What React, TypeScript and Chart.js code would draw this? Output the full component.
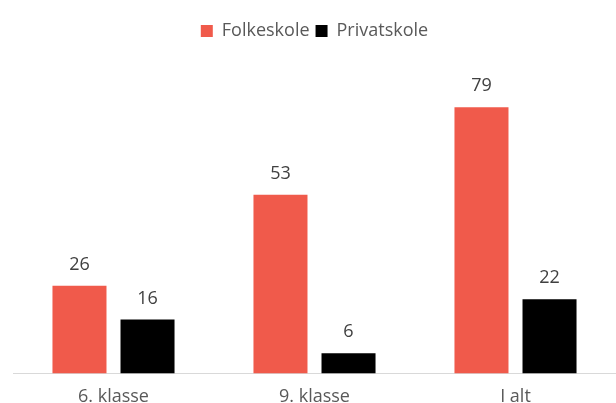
import React, { useEffect, useRef } from "react";
import { Chart, registerables } from "chart.js";

Chart.register(...registerables);

const categories = ["6. klasse", "9. klasse", "I alt"];
const folkeskole = [26, 53, 79];
const privatskole = [16, 6, 22];
const seriesNames = ["Folkeskole", "Privatskole"];

const FONT = "'Open Sans', sans-serif";

const valueLabels = {
  id: "valueLabels",
  afterDatasetsDraw(chart: any) {
    const ctx = chart.ctx;
    ctx.save();
    ctx.font = `18px ${FONT}`;
    ctx.fillStyle = "#404040";
    ctx.textAlign = "center";
    ctx.textBaseline = "bottom";
    chart.data.datasets.forEach((ds: any, i: number) => {
      const meta = chart.getDatasetMeta(i);
      meta.data.forEach((bar: any, j: number) => {
        ctx.fillText(String(ds.data[j]), bar.x, bar.y - 12);
      });
    });
    ctx.restore();
  },
};

export default function App() {
  const ref = useRef<HTMLCanvasElement>(null);
  useEffect(() => {
    if (!ref.current) return;
    const chart = new Chart(ref.current, {
      type: "bar",
      data: {
        labels: categories,
        datasets: [
          { label: seriesNames[0], data: folkeskole, backgroundColor: "#F05A4B" },
          { label: seriesNames[1], data: privatskole, backgroundColor: "#000000" },
        ],
      },
      options: {
        animation: false,
        responsive: false,
        maintainAspectRatio: false,
        layout: { padding: { left: 13, right: 0, top: 16, bottom: -10 } },
        datasets: {
          bar: { categoryPercentage: 0.677, barPercentage: 0.794 },
        },
        plugins: {
          legend: {
            position: "top",
            labels: {
              boxWidth: 12,
              boxHeight: 12,
              padding: 6,
              color: "#595959",
              font: { family: FONT, size: 18 },
            },
          },
          tooltip: { enabled: false },
        },
        scales: {
          x: {
            grid: { display: false },
            border: { display: true, color: "#d9d9d9", width: 1 },
            ticks: { color: "#595959", font: { family: FONT, size: 18 }, padding: 5 },
          },
          y: { display: false, min: 0, max: 96 },
        },
      },
      plugins: [valueLabels],
    });
    return () => chart.destroy();
  }, []);
  return (
    <div style={{ position: "fixed", left: 0, top: 0, width: 616, height: 403, background: "#fff" }}>
      <canvas ref={ref} width={616} height={403} />
    </div>
  );
}
